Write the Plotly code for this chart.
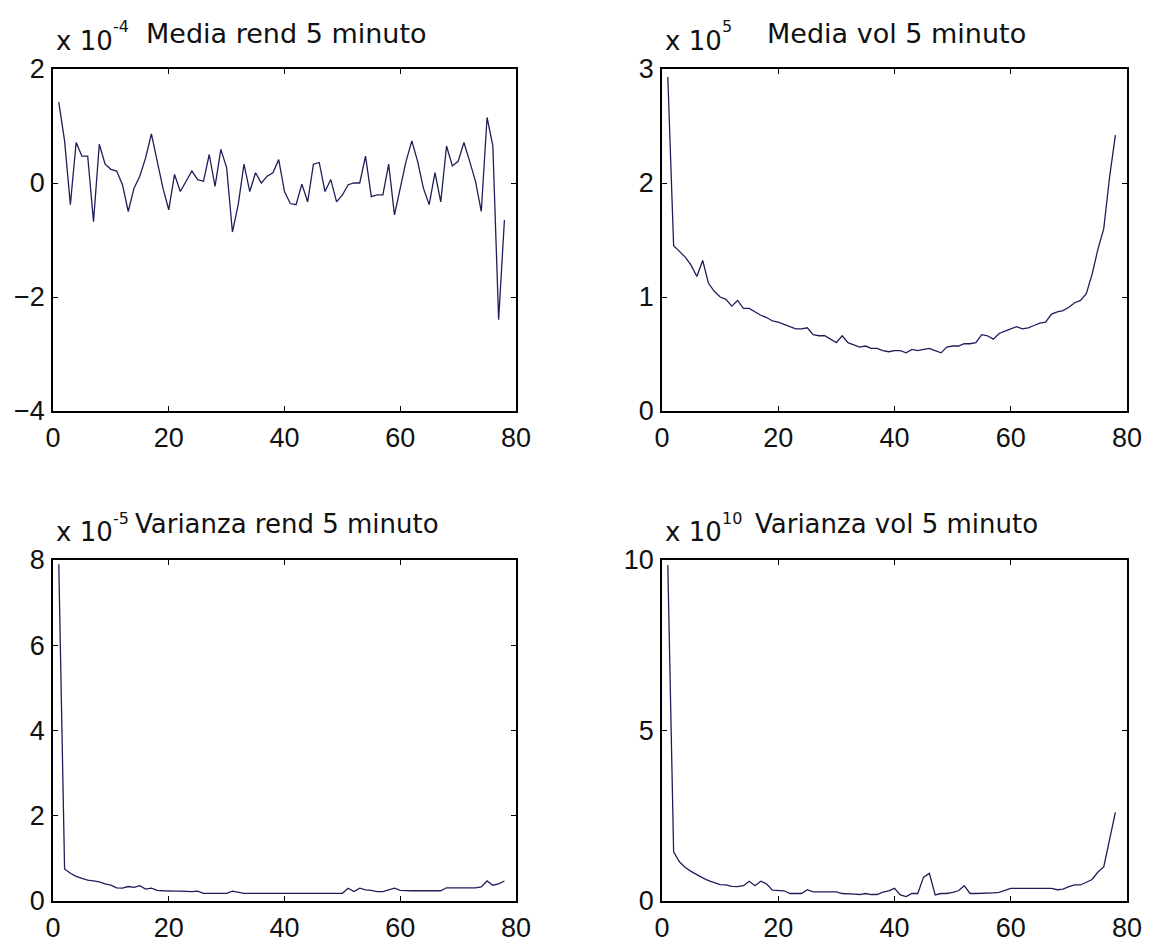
import plotly.graph_objects as go

W, H = 1160, 949

# ---------------- data (values in axis units shown, with exponent labels) -------------
x_idx = list(range(1, 79))

media_rend = [1.42, 0.74, -0.38, 0.71, 0.47, 0.47, -0.68, 0.68, 0.33, 0.24,
              0.21, -0.03, -0.50, -0.09, 0.12, 0.44, 0.86, 0.38, -0.09, -0.47,
              0.15, -0.15, 0.03, 0.21, 0.06, 0.03, 0.50, -0.06, 0.59, 0.27,
              -0.86, -0.38, 0.33, -0.15, 0.18, 0.00, 0.12, 0.18, 0.41, -0.15,
              -0.36, -0.38, -0.02, -0.33, 0.33, 0.36, -0.15, 0.06, -0.33, -0.21,
              -0.03, 0.00, 0.00, 0.47, -0.24, -0.21, -0.21, 0.33, -0.56, -0.09,
              0.38, 0.74, 0.38, -0.09, -0.38, 0.18, -0.33, 0.65, 0.30, 0.38,
              0.71, 0.38, 0.03, -0.50, 1.15, 0.65, -2.40, -0.65]

media_vol = [2.93, 1.45, 1.40, 1.35, 1.28, 1.18, 1.32, 1.12, 1.05, 1.00,
             0.98, 0.92, 0.97, 0.90, 0.90, 0.87, 0.84, 0.82, 0.79, 0.78,
             0.76, 0.74, 0.72, 0.72, 0.73, 0.67, 0.66, 0.66, 0.63, 0.60,
             0.66, 0.60, 0.58, 0.56, 0.57, 0.55, 0.55, 0.53, 0.52, 0.53,
             0.53, 0.51, 0.54, 0.53, 0.54, 0.55, 0.53, 0.51, 0.56, 0.57,
             0.57, 0.59, 0.59, 0.60, 0.67, 0.66, 0.63, 0.68, 0.70, 0.72,
             0.74, 0.72, 0.73, 0.75, 0.77, 0.78, 0.85, 0.87, 0.88, 0.91,
             0.95, 0.97, 1.03, 1.20, 1.42, 1.60, 2.05, 2.42]

var_rend = [7.90, 0.75, 0.65, 0.58, 0.53, 0.49, 0.47, 0.45, 0.40, 0.37,
            0.31, 0.30, 0.34, 0.32, 0.36, 0.28, 0.30, 0.25, 0.24, 0.23,
            0.23, 0.23, 0.22, 0.22, 0.23, 0.18, 0.18, 0.18, 0.18, 0.18,
            0.23, 0.20, 0.18, 0.18, 0.18, 0.18, 0.18, 0.18, 0.18, 0.18,
            0.18, 0.18, 0.18, 0.18, 0.18, 0.18, 0.18, 0.18, 0.18, 0.18,
            0.30, 0.22, 0.30, 0.26, 0.25, 0.22, 0.22, 0.26, 0.30, 0.25,
            0.24, 0.24, 0.24, 0.24, 0.24, 0.24, 0.24, 0.31, 0.31, 0.31,
            0.31, 0.31, 0.31, 0.33, 0.47, 0.37, 0.40, 0.47]

var_vol = [9.85, 1.44, 1.15, 0.98, 0.87, 0.77, 0.68, 0.60, 0.53, 0.48,
           0.47, 0.43, 0.42, 0.45, 0.58, 0.45, 0.58, 0.50, 0.32, 0.32,
           0.30, 0.22, 0.22, 0.22, 0.33, 0.27, 0.27, 0.27, 0.27, 0.27,
           0.22, 0.22, 0.20, 0.19, 0.22, 0.19, 0.19, 0.26, 0.30, 0.37,
           0.18, 0.13, 0.22, 0.22, 0.70, 0.81, 0.18, 0.22, 0.22, 0.25,
           0.30, 0.45, 0.22, 0.22, 0.22, 0.22, 0.24, 0.25, 0.30, 0.37,
           0.37, 0.37, 0.37, 0.37, 0.37, 0.38, 0.37, 0.33, 0.35, 0.42,
           0.47, 0.47, 0.55, 0.63, 0.85, 1.00, 1.80, 2.60]

titles = ["Media rend 5 minuto", "Media vol 5 minuto",
          "Varianza rend 5 minuto", "Varianza vol 5 minuto"]
exponents = ["-4", "5", "-5", "10"]
y_ranges = [[-4, 2], [0, 3], [0, 8], [0, 10]]
y_ticks = [[-4, -2, 0, 2], [0, 1, 2, 3], [0, 2, 4, 6, 8], [0, 5, 10]]
x_ticks = [0, 20, 40, 60, 80]
series = [media_rend, media_vol, var_rend, var_vol]

# ---------------- layout geometry (pixels) ----------------
cols = [(53, 516), (662, 1127)]
rows = [(69, 411), (560, 901)]
title_sizes = [27, 27, 26, 26]

LINE_COLOR = "#1e1e5a"
TICK_FONT = dict(family="Liberation Sans, Arial, sans-serif", size=27, color="#111111")
TXT_FONT = "DejaVu Sans, Verdana, sans-serif"

fig = go.Figure()
layout = dict(width=W, height=H, margin=dict(l=0, r=0, t=0, b=0, pad=0),
              paper_bgcolor="white", plot_bgcolor="white", showlegend=False)
annotations = []

for i in range(4):
    r, c = divmod(i, 2)
    x0, x1 = cols[c]
    y0, y1 = rows[r]
    sfx = "" if i == 0 else str(i + 1)
    fig.add_trace(go.Scatter(x=x_idx, y=series[i], mode="lines",
                             line=dict(color=LINE_COLOR, width=1.3),
                             xaxis="x" + sfx, yaxis="y" + sfx,
                             hoverinfo="skip"))
    common = dict(showline=True, linecolor="black", linewidth=1.5, mirror="ticks",
                  ticks="inside", ticklen=5, tickwidth=1, tickcolor="black",
                  showgrid=False, zeroline=False, tickfont=TICK_FONT,
                  automargin=False)
    layout["xaxis" + sfx] = dict(domain=[x0 / W, x1 / W], range=[0, 80],
                                 tickvals=x_ticks, anchor="y" + sfx,
                                 ticklabelstandoff=2, **common)
    layout["yaxis" + sfx] = dict(domain=[1 - y1 / H, 1 - y0 / H], range=y_ranges[i],
                                 tickvals=y_ticks[i], anchor="x" + sfx,
                                 ticklabelstandoff=1, **common)
    # "x 10" label
    annotations.append(dict(text="x 10", xref="paper", yref="paper",
                            x=(x0 + 1) / W, y=1 - (y0 - 28) / H,
                            xanchor="left", yanchor="middle", showarrow=False,
                            font=dict(family=TXT_FONT, size=26, color="#111111")))
    # exponent
    annotations.append(dict(text=exponents[i], xref="paper", yref="paper",
                            x=(x0 + 58) / W, y=1 - (y0 - 42) / H,
                            xanchor="left", yanchor="middle", showarrow=False,
                            font=dict(family=TXT_FONT, size=16, color="#111111")))
    # title
    annotations.append(dict(text=titles[i], xref="paper", yref="paper",
                            x=((x0 + x1) / 2 + 2) / W, y=1 - (y0 - 36) / H,
                            xanchor="center", yanchor="middle", showarrow=False,
                            font=dict(family=TXT_FONT, size=title_sizes[i],
                                      color="#111111")))

layout["annotations"] = annotations
fig.update_layout(**layout)
fig.write_html("out.html")
